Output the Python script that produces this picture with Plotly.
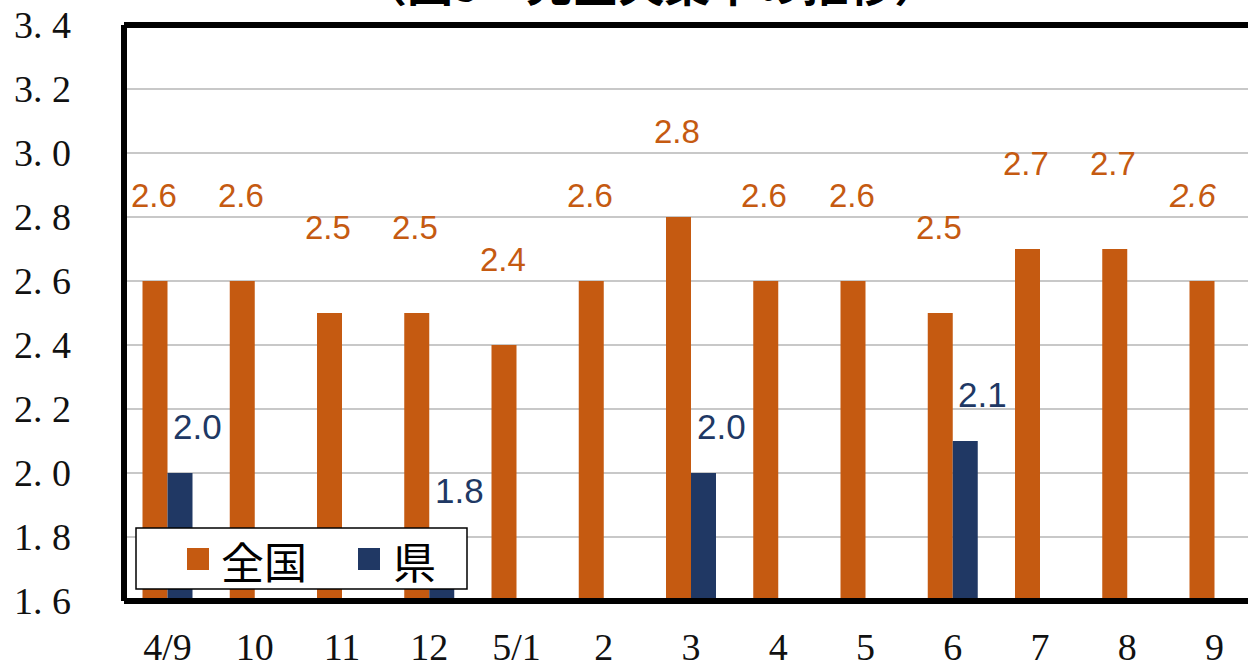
import plotly.graph_objects as go

categories = ["4/9", "10", "11", "12", "5/1", "2", "3", "4", "5", "6", "7", "8", "9"]
national = [2.6, 2.6, 2.5, 2.5, 2.4, 2.6, 2.8, 2.6, 2.6, 2.5, 2.7, 2.7, 2.6]
pref = [2.0, None, None, 1.8, None, None, 2.0, None, None, 2.1, None, None, None]
series_names = ["全国", "県"]
y_ticks = [1.6, 1.8, 2.0, 2.2, 2.4, 2.6, 2.8, 3.0, 3.2, 3.4]
title_text = "（図5　完全失業率の推移）"

ORANGE = "#C55A11"
NAVY = "#203864"

W, H = 1248, 663
ML, MR, MT, MB = 124, 0, 25, 62
plot_w = W - ML - MR
plot_h = H - MT - MB

fig = go.Figure()
fig.add_trace(go.Bar(x=categories, y=national, name=series_names[0],
                     marker=dict(color=ORANGE, line=dict(width=0)), showlegend=False))
fig.add_trace(go.Bar(x=categories, y=pref, name=series_names[1],
                     marker=dict(color=NAVY, line=dict(width=0)), showlegend=False))

annotations = []
# data labels (x given as category index)
for i, v in enumerate(national):
    italic = (i == len(categories) - 1)
    annotations.append(dict(
        x=i, y=v, xref="x", yref="y", text=f"{v:.1f}", showarrow=False,
        xshift=-14 if not italic else -22, yshift=86, yanchor="middle", xanchor="center",
        font=dict(family="Liberation Sans", size=33, color=ORANGE,
                  style="italic" if italic else "normal")))
for i, v in enumerate(pref):
    if v is None:
        continue
    annotations.append(dict(
        x=i, y=v, xref="x", yref="y", text=f"{v:.1f}", showarrow=False,
        xshift=30, yshift=47, yanchor="middle", xanchor="center",
        font=dict(family="Liberation Sans", size=35, color=NAVY)))

def px_x(p):
    return (p - ML) / plot_w

def px_y(p):
    return (H - MB - p) / plot_h

# title (mostly cut off at top, as in reference)
annotations.append(dict(
    x=px_x(650), y=1, xref="paper", yref="paper", text=title_text, showarrow=False,
    xanchor="center", yanchor="bottom", yshift=9,
    font=dict(family="Noto Sans CJK JP", size=46, color="black", weight="bold")))

# manual legend
shapes = []
shapes.append(dict(type="rect", xref="paper", yref="paper",
                   x0=px_x(136), x1=px_x(467), y0=px_y(589), y1=px_y(528),
                   fillcolor="white", line=dict(color="black", width=1.5), layer="above"))
legend_items = [(series_names[0], ORANGE, 187, 219), (series_names[1], NAVY, 358, 391)]
for name, col, sx, tx in legend_items:
    shapes.append(dict(type="rect", xref="paper", yref="paper",
                       x0=px_x(sx), x1=px_x(sx + 22), y0=px_y(570), y1=px_y(548),
                       fillcolor=col, line=dict(width=0), layer="above"))
    annotations.append(dict(x=px_x(tx), y=px_y(560), xref="paper", yref="paper",
                            text=name, showarrow=False, xanchor="left", yanchor="middle",
                            font=dict(family="Noto Sans CJK JP", size=43, color="black")))

# plot border (left, top, bottom)
for x0, y0, x1, y1 in [(0, 0, 0, 1), (0, 1, 1, 1), (0, 0, 1, 0)]:
    shapes.append(dict(type="line", xref="paper", yref="paper", x0=x0, y0=y0, x1=x1, y1=y1,
                       line=dict(color="black", width=6), layer="above"))

cat_px = 87.25
x_start = -(167.5 - ML) / cat_px
x_end = x_start + plot_w / cat_px

fig.update_layout(
    width=W, height=H,
    margin=dict(l=ML, r=MR, t=MT, b=MB, pad=0, autoexpand=False),
    paper_bgcolor="white", plot_bgcolor="white",
    barmode="group", bargap=0.427, bargroupgap=0,
    showlegend=False,
    annotations=annotations, shapes=shapes,
    xaxis=dict(type="category", range=[x_start, x_end], showgrid=False, showline=False,
               ticks="", zeroline=False, ticklabelstandoff=20, automargin=False,
               tickfont=dict(family="Liberation Serif", size=38, color="#111")),
    yaxis=dict(range=[1.6, 3.4], tickvals=y_ticks,
               ticktext=[f"{v:.1f}".replace(".", ". ") for v in y_ticks],
               showgrid=True, gridcolor="#C8C8C8", gridwidth=1.5, showline=False,
               zeroline=False, ticks="", ticklabelstandoff=52, automargin=False,
               tickfont=dict(family="Liberation Serif", size=38, color="#111")),
)

fig.write_html("out.html", config={"displayModeBar": False},
               post_script="document.body.style.margin='0';document.body.style.overflow='hidden';")
